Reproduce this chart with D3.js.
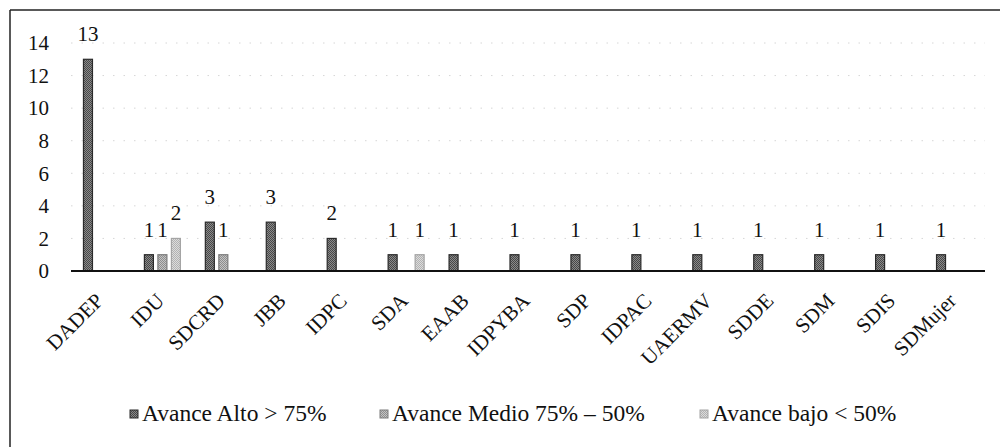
<!DOCTYPE html>
<html>
<head>
<meta charset="utf-8">
<script src="https://cdn.jsdelivr.net/npm/d3@7/dist/d3.min.js"></script>
<style>
  html, body { margin: 0; padding: 0; background: #fff; font-family: "Liberation Serif", "Times New Roman", Tinos, Times; }
  svg { display: block; }
  svg text { font-family: "Times New Roman", "Liberation Serif", Tinos, "Nimbus Roman", FreeSerif, Times !important; }
</style>
</head>
<body>
<svg id="chart" width="1003" height="447"></svg>
<script>
const categories = ["DADEP","IDU","SDCRD","JBB","IDPC","SDA","EAAB","IDPYBA","SDP","IDPAC","UAERMV","SDDE","SDM","SDIS","SDMujer"];
const seriesNames = ["Avance Alto > 75%","Avance Medio 75% \u2013 50%","Avance bajo < 50%"];
const alto  = [13,1,3,3,2,1,1,1,1,1,1,1,1,1,1];
const medio = [null,1,1,null,null,null,null,null,null,null,null,null,null,null,null];
const bajo  = [null,2,null,null,null,1,null,null,null,null,null,null,null,null,null];
const yTicks = [0,2,4,6,8,10,12,14];

const FONT = '"Times New Roman", "Liberation Serif", Tinos, Times';
const seriesValues = [alto, medio, bajo];
const dark  = ["#474747", "#8e8e8e", "#b2b2b2"];
const light = ["#8a8a8a", "#c4c4c4", "#dcdcdc"];
const strokes = ["#2a2a2a", "#7c7c7c", "#a4a4a4"];

const svg = d3.select("#chart");
const defs = svg.append("defs");
dark.forEach((c, i) => {
  const p = defs.append("pattern").attr("id", "pat" + i)
    .attr("width", 2).attr("height", 2).attr("patternUnits", "userSpaceOnUse");
  p.append("rect").attr("width", 2).attr("height", 2).attr("fill", light[i]);
  p.append("rect").attr("width", 1).attr("height", 1).attr("fill", c);
  p.append("rect").attr("x", 1).attr("y", 1).attr("width", 1).attr("height", 1).attr("fill", c);
});

// frame (top and left edges visible)
svg.append("line").attr("x1",10).attr("y1",10).attr("x2",1000).attr("y2",10)
  .attr("stroke","#222").attr("stroke-width",1.5);
svg.append("line").attr("x1",10).attr("y1",10).attr("x2",10).attr("y2",447)
  .attr("stroke","#222").attr("stroke-width",1.5);

const x0 = d3.scaleBand().domain(categories).range([71, 985]).paddingInner(0).paddingOuter(0);
const x1 = d3.scaleBand().domain(d3.range(3)).range([-20.25, 20.25]).paddingInner(1/3).paddingOuter(1/6);
const y = d3.scaleLinear().domain([0, 14]).range([271, 43]);

// gridlines
svg.append("g").selectAll("line").data(yTicks.filter(d => d > 0)).join("line")
  .attr("x1", 71).attr("x2", 985)
  .attr("y1", d => y(d)).attr("y2", d => y(d))
  .attr("stroke", "#d6d6d6").attr("stroke-width", 1)
  .attr("stroke-dasharray", "1.5,9");

function styled(sel, size) {
  return sel.attr("font-size", size).attr("fill", "#111")
    .attr("font-family", FONT).style("font-family", FONT);
}

// y tick labels
styled(svg.append("g").selectAll("text").data(yTicks).join("text"), 21)
  .attr("x", 49).attr("y", d => y(d)).attr("dy", "0.35em")
  .attr("text-anchor", "end")
  .text(d => d);

// bars
const barData = [];
seriesValues.forEach((vals, s) => {
  vals.forEach((v, i) => {
    if (v !== null && v !== undefined) barData.push({cat: categories[i], s, v});
  });
});

svg.append("g").selectAll("rect").data(barData).join("rect")
  .attr("x", d => x0(d.cat) + x0.bandwidth()/2 + x1(d.s))
  .attr("y", d => y(d.v))
  .attr("width", x1.bandwidth())
  .attr("height", d => y(0) - y(d.v))
  .attr("fill", d => `url(#pat${d.s})`)
  .attr("stroke", d => strokes[d.s])
  .attr("stroke-width", 1.2);

// data labels
styled(svg.append("g").selectAll("text").data(barData).join("text"), 21)
  .attr("x", d => x0(d.cat) + x0.bandwidth()/2 + x1(d.s) + x1.bandwidth()/2)
  .attr("y", d => y(d.v) - 18)
  .attr("text-anchor", "middle")
  .text(d => d.v);

// x axis line
svg.append("line").attr("x1", 71).attr("x2", 985).attr("y1", y(0)).attr("y2", y(0))
  .attr("stroke", "#111").attr("stroke-width", 2);

// category labels
styled(svg.append("g").selectAll("text").data(categories).join("text"), 21)
  .attr("text-anchor", "end")
  .attr("transform", d => `translate(${x0(d) + x0.bandwidth()/2 + 3},302) rotate(-45)`)
  .text(d => d);

// legend
const legendX = [130, 380, 700];
const lg = svg.append("g").selectAll("g").data(seriesNames).join("g")
  .attr("transform", (d, i) => `translate(${legendX[i]},0)`);
lg.append("rect").attr("x", 0).attr("y", 410).attr("width", 8).attr("height", 8)
  .attr("fill", (d, i) => `url(#pat${i})`).attr("stroke", (d, i) => strokes[i]).attr("stroke-width", 1);
styled(lg.append("text"), 23.5).attr("x", 12).attr("y", 421)
  .text(d => d);
</script>
</body>
</html>
